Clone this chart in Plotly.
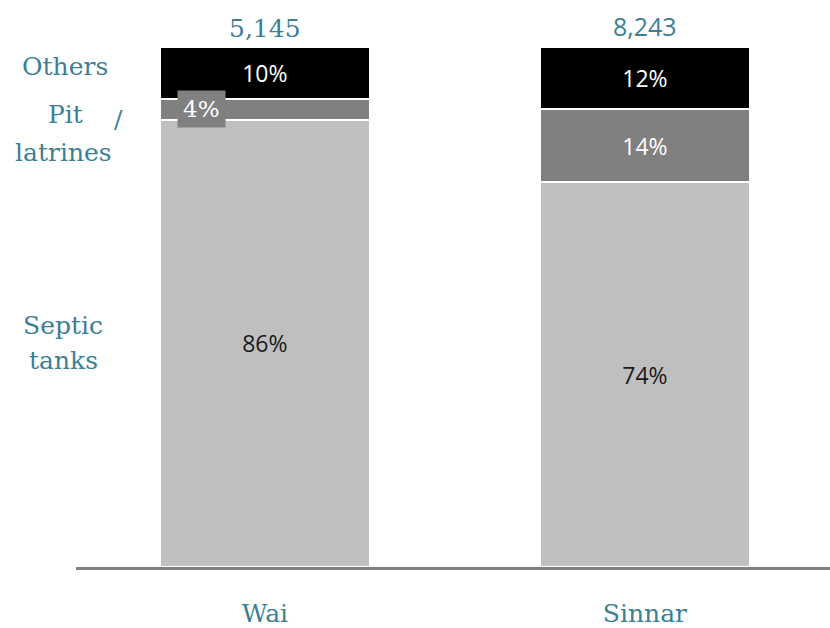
import plotly.graph_objects as go

# Share of toilets by containment type, per town (percent)
towns = ["Wai", "Sinnar"]
septic_tanks = [86, 74]
pit_latrines = [4, 14]
others = [10, 12]
households = ["5,145", "8,243"]

TEAL = "#3c7f94"
SERIF = "DejaVu Serif"
SANS = "Open Sans"

# Plot area geometry (pixels)
W, H = 830, 628
ML, MR, MT, MB = 76, 0, 47, 58


def px_x(p):
    return (p - ML) / (W - ML - MR)


def px_y(p):
    return (H - MB - p) / (H - MT - MB)


fig = go.Figure()

x = [0, 1]
fig.add_trace(go.Bar(
    x=x, y=septic_tanks, name="Septic tanks", width=0.553,
    marker=dict(color="#bfbfbf", line=dict(color="white", width=2)),
    text=[f"{v}%" for v in septic_tanks], textposition="inside",
    insidetextanchor="middle",
    textfont=dict(family=SANS, size=23, color="#1a1a1a"),
))
fig.add_trace(go.Bar(
    x=x, y=pit_latrines, name="Pit latrines", width=0.553,
    marker=dict(color="#808080", line=dict(color="white", width=2)),
    text=["", f"{pit_latrines[1]}%"], textposition="inside",
    insidetextanchor="middle",
    textfont=dict(family=SANS, size=23, color="white"),
))
fig.add_trace(go.Bar(
    x=x, y=others, name="Others", width=0.553,
    marker=dict(color="black", line=dict(color="white", width=2)),
    text=[f"{v}%" for v in others], textposition="inside",
    insidetextanchor="middle",
    textfont=dict(family=SANS, size=23, color="white"),
))

annotations = []

# Small segment label for Wai pit latrines, boxed so it reads over the thin band
annotations.append(dict(
    x=-0.168, y=septic_tanks[0] + pit_latrines[0] / 2, xref="x", yref="y",
    text=f"{pit_latrines[0]}%", showarrow=False,
    font=dict(family=SERIF, size=23, color="white"),
    bgcolor="#808080", borderpad=5,
))

# Totals above each bar
annotations.append(dict(
    x=0, y=100, xref="x", yref="y", yanchor="bottom", yshift=2,
    text=households[0], showarrow=False,
    font=dict(family=SERIF, size=25, color=TEAL),
))
annotations.append(dict(
    x=1, y=100, xref="x", yref="y", yanchor="bottom", yshift=2,
    text=households[1], showarrow=False,
    font=dict(family=SANS, size=25, color=TEAL),
))

# Category labels on the left
left_labels = [
    ("Others", 65, 67),
    ("Pit", 65, 115),
    ("/", 118, 120),
    ("latrines", 63, 153),
    ("Septic", 63, 327),
    ("tanks", 63, 362),
]
for txt, lx, ly in left_labels:
    annotations.append(dict(
        x=px_x(lx), y=px_y(ly), xref="paper", yref="paper",
        xanchor="center", yanchor="middle",
        text=txt, showarrow=False,
        font=dict(family=SERIF, size=25, color=TEAL),
    ))

fig.update_layout(
    barmode="stack",
    width=W, height=H,
    margin=dict(l=ML, r=MR, t=MT, b=MB),
    paper_bgcolor="white", plot_bgcolor="white",
    showlegend=False,
    annotations=annotations,
    uniformtext=dict(mode="show", minsize=10),
    xaxis=dict(
        range=[-0.497, 1.487], tickvals=x, ticktext=towns,
        showline=True, linecolor="#7f7f7f", linewidth=3,
        showgrid=False, zeroline=False, ticks="",
        ticklabelstandoff=22,
        tickfont=dict(family=SERIF, size=25, color=TEAL),
    ),
    yaxis=dict(
        range=[0, 100], visible=False, showgrid=False, zeroline=False,
    ),
)

fig.write_html("out.html")
